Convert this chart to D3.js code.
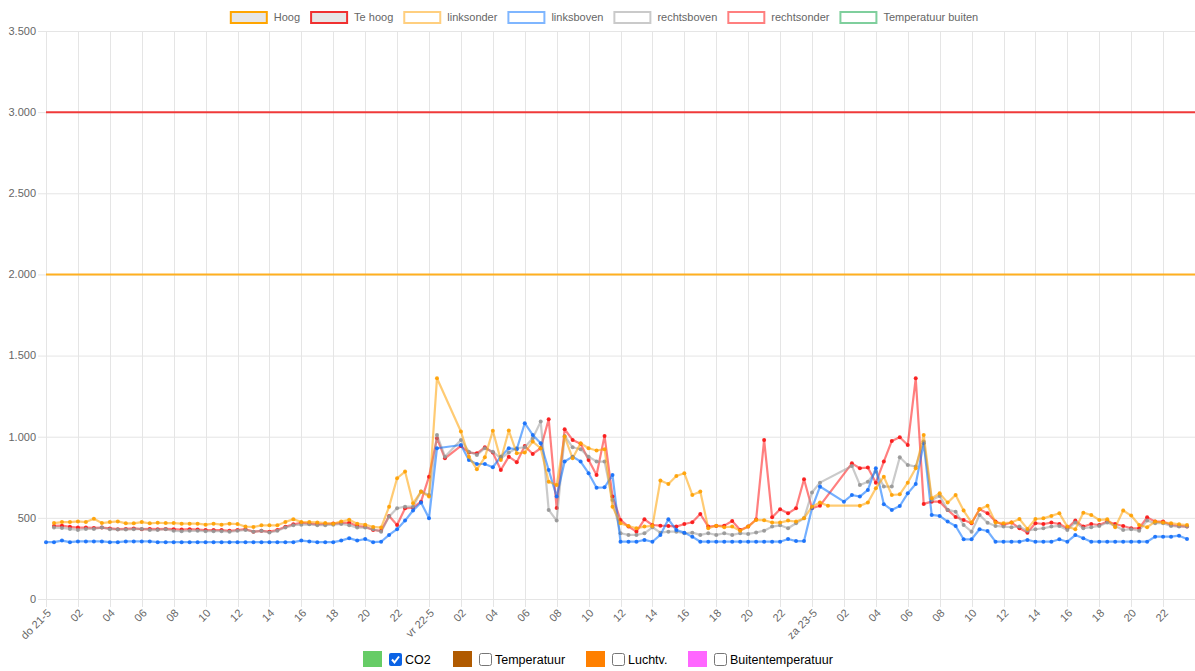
<!DOCTYPE html>
<html>
<head>
<meta charset="utf-8">
<script src="https://cdnjs.cloudflare.com/ajax/libs/d3/7.8.5/d3.min.js"></script>
<style>
	body { margin: 0; background: #fff; }
	svg  { display: block; font-family: "Liberation Sans", Arial, Helvetica, sans-serif; }
</style>
</head>
<body>
<svg id="chart" width="1195" height="671"></svg>
<script>
// ==================================================
// DATA  (one value per half hour, do 21-5 00:00 onwards)
// ==================================================

var xTickLabels = ["do 21-5", "02", "04", "06", "08", "10", "12", "14", "16", "18", "20", "22",
                   "vr 22-5", "02", "04", "06", "08", "10", "12", "14", "16", "18", "20", "22",
                   "za 23-5", "02", "04", "06", "08", "10", "12", "14", "16", "18", "20", "22"];

var yTicks = [0, 500, 1000, 1500, 2000, 2500, 3000, 3500];

var hoog   = 2000;
var teHoog = 3000;

var linksonder = [
	null, 468, 474, 474, 478, 474, 494, 468, 474, 478, 466, 466,
	474, 466, 470, 468, 468, 464, 464, 464, 458, 464, 458, 464,
	462, 446, 444, 454, 454, 454, 474, 492, 474, 474, 472, 468,
	464, 478, 488, 464, 458, 444, 440, 569, 744, 785, 590, 662,
	631, 1360, null, null, 1032, 877, 799, 873, 1036, 857, 1038, 898,
	902, 970, 929, 723, 703, 1001, 867, 960, 929, 915, 923, 569,
	466, 450, 436, 446, 450, 730, 709, 758, 775, 641, 662, 436,
	452, 442, 446, 421, 446, 487, 486, 471, 471, 483, 477, 497,
	569, 594, 575, null, null, null, 575, 594, 682, 754, 641, 645,
	717, 806, 1011, 621, 651, 594, 641, 545, 471, 553, 575, 471,
	467, 471, 493, 432, 493, 497, 512, 528, 446, 430, 532, 518,
	487, 491, 442, 545, 514, 456, 442, 477, 471, 467, 460, 456
];

var linksboven = [
	350, 350, 360, 350, 355, 355, 355, 355, 350, 350, 355, 355,
	355, 355, 350, 350, 350, 350, 350, 350, 350, 350, 350, 350,
	350, 350, 350, 350, 350, 350, 350, 350, 360, 355, 350, 350,
	350, 360, 375, 360, 370, 350, 353, 395, 430, 483, 545, 595,
	497, 929, null, null, 949, 857, 832, 832, 812, 877, 929, 923,
	1083, 1011, 960, 795, 631, 847, 877, 847, 775, 686, 688, 764,
	353, 353, 353, 364, 353, 395, 491, 425, 409, 384, 353, 353,
	353, 353, 353, 353, 353, 353, 353, 353, 353, 370, 357, 357,
	560, 693, null, null, 600, 641, 631, 672, 806, 584, 549, 573,
	651, 709, 960, 518, 512, 477, 450, 368, 368, 430, 419, 353,
	353, 353, 353, 364, 353, 353, 353, 368, 353, 394, 374, 353,
	353, 353, 353, 353, 353, 353, 353, 384, 384, 384, 390, 370
];

var rechtsboven = [
	null, 440, 438, 432, 425, 432, 432, 440, 430, 428, 428, 430,
	432, 425, 425, 430, 420, 418, 420, 420, 418, 418, 418, 415,
	420, 425, 415, 420, 410, 420, 440, 455, 458, 460, 455, 455,
	458, 462, 455, 440, 440, 430, 415, 508, 559, 569, 569, 662,
	641, 1011, 877, null, 980, 908, 888, 929, 908, 867, 902, 929,
	935, 990, 1093, 549, 483, 1005, 935, 923, 877, 847, 847, 610,
	405, 395, 395, 405, 442, 409, 415, 415, 405, 409, 395, 405,
	395, 405, 395, 405, 401, 410, 421, 446, 454, 436, 467, 497,
	656, 717, null, null, null, 820, 703, 723, 785, 693, 693, 873,
	826, 816, 970, 610, 635, 549, 538, 456, 415, 518, 470, 450,
	446, 442, 446, 421, 430, 436, 446, 450, 425, 471, 436, 442,
	450, 471, 450, 425, 430, 421, 483, 467, 467, 450, 446, 446
];

var rechtsonder = [
	null, 450, 452, 445, 440, 440, 438, 440, 435, 430, 432, 435,
	430, 432, 430, 432, 430, 428, 430, 428, 425, 425, 425, 420,
	425, 430, 415, 420, 415, 425, 445, 460, 470, 465, 460, 462,
	465, 468, 470, 450, 445, 425, 420, 512, 456, 559, 563, 600,
	754, 990, 867, null, 943, 902, 898, 935, 902, 795, 877, 843,
	943, 894, 929, 1108, 560, 1046, 980, 956, 857, 764, 1005, 631,
	487, 446, 415, 491, 456, 452, 450, 446, 462, 473, 524, 446,
	450, 452, 481, 425, 446, 490, 980, 503, 553, 528, 559, 738,
	559, 575, null, null, null, 836, 806, 810, 717, 847, 974, 997,
	949, 1360, 586, 600, 600, 549, 505, 487, 467, 553, 528, 477,
	456, 471, 436, 409, 467, 462, 471, 462, 436, 483, 446, 462,
	456, 477, 462, 450, 436, 436, 503, 477, 477, 456, 450, 446
];

// Top legend (Chart.js style)
var legendNames  = ["Hoog", "Te hoog", "linksonder", "linksboven", "rechtsboven", "rechtsonder", "Temperatuur buiten"];
var legendStroke = ["#ffa500", "#f03030", "rgba(255,160,0,0.5)", "rgba(0,110,255,0.5)",
                    "rgba(150,150,150,0.5)", "rgba(255,0,0,0.5)", "rgba(0,160,60,0.5)"];
var legendFill   = ["#e6e6e6", "#e6e6e6", "#fff", "#fff", "#fff", "#fff", "#fff"];

// Bottom toggles
var toggleNames   = ["CO2", "Temperatuur", "Luchtv.", "Buitentemperatuur"];
var toggleColors  = ["#66cc66", "#b05a00", "#ff8000", "#ff66ff"];
var toggleChecked = [true, false, false, false];


// ==================================================
// SETUP
// ==================================================

var width  = 1195;
var height = 671;
var plot   = { left: 46, right: 1195, top: 31, bottom: 599 };

var svg = d3.select("#chart");

var x = d3.scaleLinear()
	.domain([0, 144])
	.range([plot.left, plot.right]);

var y = d3.scaleLinear()
	.domain([0, 3500])
	.range([plot.bottom, plot.top]);

var nl = d3.formatLocale({ decimal: ",", thousands: ".", grouping: [3], currency: ["€", ""] });
var fmt = nl.format(",");

var gridColor = "#e5e5e5";


// ==================================================
// GRID & AXES
// ==================================================

var grid = svg.append("g").attr("class", "grid");

grid.selectAll(".hgrid")
	.data(yTicks)
	.enter()
	.append("line")
		.attr("x1", plot.left - 8)
		.attr("x2", plot.right)
		.attr("y1", function(d) { return y(d) + 0.5; })
		.attr("y2", function(d) { return y(d) + 0.5; })
		.attr("stroke", gridColor)
		.attr("stroke-width", 1);

grid.selectAll(".vgrid")
	.data(xTickLabels)
	.enter()
	.append("line")
		.attr("x1", function(d, i) { return Math.round(x(i * 4)) + 0.5; })
		.attr("x2", function(d, i) { return Math.round(x(i * 4)) + 0.5; })
		.attr("y1", plot.top)
		.attr("y2", plot.bottom + 8)
		.attr("stroke", gridColor)
		.attr("stroke-width", 1);

svg.append("g")
	.selectAll("text")
	.data(yTicks)
	.enter()
	.append("text")
		.attr("x", plot.left - 10)
		.attr("y", function(d) { return y(d); })
		.attr("dy", "0.35em")
		.attr("text-anchor", "end")
		.attr("font-size", "11px")
		.attr("fill", "#666")
		.text(function(d) { return fmt(d); });

svg.append("g")
	.selectAll("text")
	.data(xTickLabels)
	.enter()
	.append("text")
		.attr("transform", function(d, i) {
			return "translate(" + (x(i * 4) + 3) + "," + (plot.bottom + 12) + ") rotate(-45)";
		})
		.attr("dy", "0.35em")
		.attr("text-anchor", "end")
		.attr("font-size", "11px")
		.attr("fill", "#666")
		.text(function(d) { return d; });


// ==================================================
// LIMIT LINES
// ==================================================

svg.append("line")
	.attr("x1", plot.left).attr("x2", plot.right)
	.attr("y1", y(hoog)).attr("y2", y(hoog))
	.attr("stroke", "#ffb020")
	.attr("stroke-width", 2);

svg.append("line")
	.attr("x1", plot.left).attr("x2", plot.right)
	.attr("y1", y(teHoog)).attr("y2", y(teHoog))
	.attr("stroke", "#f03a3a")
	.attr("stroke-width", 2);


// ==================================================
// SERIES
// ==================================================

var series = [
	{ values: rechtsonder, line: "rgba(255,0,0,0.5)",     dot: "rgba(250,20,20,0.9)" },
	{ values: rechtsboven, line: "rgba(150,150,150,0.5)", dot: "rgba(150,150,150,0.9)" },
	{ values: linksboven,  line: "rgba(0,110,255,0.55)",  dot: "rgba(20,110,250,0.9)" },
	{ values: linksonder,  line: "rgba(255,160,0,0.55)",  dot: "rgba(255,160,0,0.9)" }
];

var line = d3.line()
	.x(function(d) { return x(d.i); })
	.y(function(d) { return y(d.v); });

series.forEach(function(s) {
	var pts = s.values
		.map(function(v, i) { return { i: i, v: v }; })
		.filter(function(d) { return d.v !== null; });

	var g = svg.append("g");

	g.append("path")
		.datum(pts)
		.attr("d", line)
		.attr("fill", "none")
		.attr("stroke", s.line)
		.attr("stroke-width", 2.2)
		.attr("stroke-linejoin", "round");

	g.selectAll("circle")
		.data(pts)
		.enter()
		.append("circle")
			.attr("cx", function(d) { return x(d.i); })
			.attr("cy", function(d) { return y(d.v); })
			.attr("r", 2)
			.attr("fill", s.dot);
});


// ==================================================
// TOP LEGEND
// ==================================================

var legend = svg.append("g").attr("class", "legend");
var boxW = 38, boxH = 11, gap = 6, pad = 10;
var items = [];
var totalW = 0;

legendNames.forEach(function(name, i) {
	var g = legend.append("g");
	g.append("rect")
		.attr("x", 1).attr("y", 12)
		.attr("width", boxW - 2).attr("height", boxH)
		.attr("fill", legendFill[i])
		.attr("stroke", legendStroke[i])
		.attr("stroke-width", 2);
	var t = g.append("text")
		.attr("x", boxW + gap)
		.attr("y", 17.5)
		.attr("dy", "0.35em")
		.attr("font-size", "11px")
		.attr("fill", "#666")
		.text(name);
	var w = boxW + gap + t.node().getComputedTextLength();
	items.push({ g: g, w: w });
	totalW += w;
});
totalW += pad * (items.length - 1);

var cx = 604 - totalW / 2;
items.forEach(function(it) {
	it.g.attr("transform", "translate(" + cx + ",0)");
	cx += it.w + pad;
});


// ==================================================
// BOTTOM TOGGLES
// ==================================================

var toggleX = [363, 453, 586, 688];
var toggles = svg.append("g").attr("class", "toggles");

toggleNames.forEach(function(name, i) {
	var g = toggles.append("g")
		.attr("transform", "translate(" + toggleX[i] + ",651)");

	g.append("rect")
		.attr("x", 0).attr("y", 0)
		.attr("width", 19).attr("height", 16)
		.attr("fill", toggleColors[i]);

	if (toggleChecked[i]) {
		g.append("rect")
			.attr("x", 26).attr("y", 2)
			.attr("width", 13).attr("height", 13)
			.attr("rx", 2)
			.attr("fill", "#0b63e5");
		g.append("path")
			.attr("d", "M29,8.5 L31.5,11.5 L36,5.5")
			.attr("fill", "none")
			.attr("stroke", "#fff")
			.attr("stroke-width", 2);
	} else {
		g.append("rect")
			.attr("x", 26.5).attr("y", 2.5)
			.attr("width", 12).attr("height", 12)
			.attr("rx", 2)
			.attr("fill", "#fff")
			.attr("stroke", "#767676");
	}

	g.append("text")
		.attr("x", 42)
		.attr("y", 8.5)
		.attr("dy", "0.35em")
		.attr("font-size", "12.5px")
		.attr("fill", "#000")
		.text(name);
});
</script>
</body>
</html>
